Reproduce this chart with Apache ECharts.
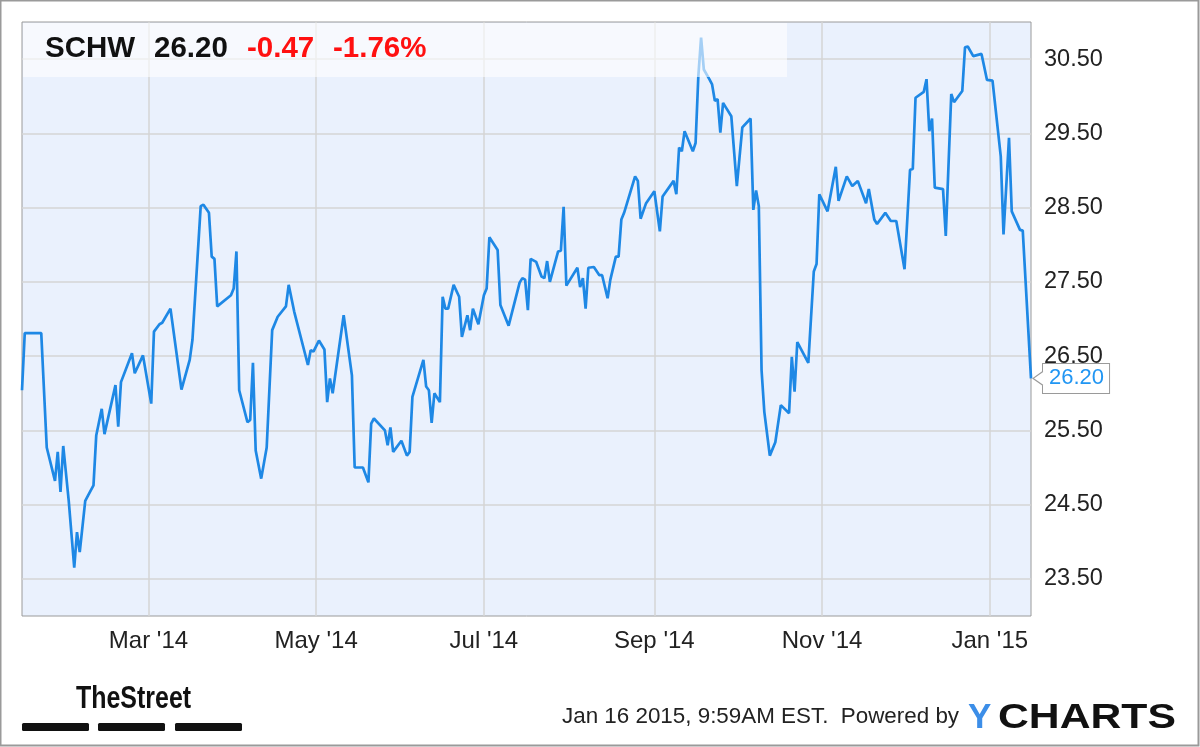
<!DOCTYPE html>
<html>
<head>
<meta charset="utf-8">
<script src="https://cdn.jsdelivr.net/npm/echarts@6/dist/echarts.min.js"></script>
<style>
html,body{margin:0;padding:0;background:#fff;}
#c{width:1200px;height:747px;}
</style>
</head>
<body>
<div id="c"></div>
<script>
// ---- data ----
const dates = [
'2014-01-14','2014-01-15','2014-01-21','2014-01-23','2014-01-26','2014-01-27','2014-01-28','2014-01-29','2014-01-31',
'2014-02-02','2014-02-03','2014-02-04','2014-02-06','2014-02-07','2014-02-09','2014-02-10','2014-02-12','2014-02-13',
'2014-02-17','2014-02-18','2014-02-19','2014-02-23','2014-02-24','2014-02-27',
'2014-03-02','2014-03-03','2014-03-05','2014-03-06','2014-03-09','2014-03-13','2014-03-16','2014-03-17','2014-03-20',
'2014-03-21','2014-03-23','2014-03-24','2014-03-25','2014-03-26','2014-03-31',
'2014-04-01','2014-04-02','2014-04-03','2014-04-06','2014-04-07','2014-04-08','2014-04-09','2014-04-11','2014-04-13',
'2014-04-15','2014-04-17','2014-04-20','2014-04-21','2014-04-23','2014-04-28','2014-04-29','2014-04-30',
'2014-05-02','2014-05-04','2014-05-05','2014-05-06','2014-05-07','2014-05-11','2014-05-14','2014-05-15','2014-05-18',
'2014-05-20','2014-05-21','2014-05-22','2014-05-26','2014-05-27','2014-05-28','2014-05-29',
'2014-06-01','2014-06-03','2014-06-04','2014-06-05','2014-06-09','2014-06-10','2014-06-11','2014-06-12','2014-06-13',
'2014-06-15','2014-06-16','2014-06-17','2014-06-18','2014-06-20','2014-06-22','2014-06-23','2014-06-25','2014-06-26',
'2014-06-27','2014-06-29',
'2014-07-01','2014-07-02','2014-07-03','2014-07-06','2014-07-07','2014-07-10','2014-07-14','2014-07-15','2014-07-16',
'2014-07-17','2014-07-18','2014-07-20','2014-07-22','2014-07-23','2014-07-24','2014-07-25','2014-07-28','2014-07-29',
'2014-07-30','2014-07-31',
'2014-08-04','2014-08-05','2014-08-06','2014-08-07','2014-08-08','2014-08-10','2014-08-12','2014-08-13','2014-08-15',
'2014-08-16','2014-08-18','2014-08-19','2014-08-20','2014-08-21','2014-08-25','2014-08-26','2014-08-27','2014-08-29',
'2014-09-01','2014-09-03','2014-09-04','2014-09-08','2014-09-09','2014-09-10','2014-09-11','2014-09-12','2014-09-15',
'2014-09-16','2014-09-17','2014-09-18','2014-09-19','2014-09-21','2014-09-22','2014-09-23','2014-09-24','2014-09-25',
'2014-09-26','2014-09-27','2014-09-29',
'2014-10-01','2014-10-03','2014-10-06','2014-10-07','2014-10-08','2014-10-09','2014-10-10','2014-10-11','2014-10-13',
'2014-10-15','2014-10-17','2014-10-20','2014-10-21','2014-10-22','2014-10-23','2014-10-27','2014-10-29','2014-10-30',
'2014-10-31',
'2014-11-03','2014-11-06','2014-11-07','2014-11-10','2014-11-12','2014-11-14','2014-11-17','2014-11-18','2014-11-20',
'2014-11-21','2014-11-24','2014-11-26','2014-11-28',
'2014-12-01','2014-12-03','2014-12-04','2014-12-05','2014-12-08','2014-12-09','2014-12-10','2014-12-11','2014-12-12',
'2014-12-15','2014-12-16','2014-12-18','2014-12-19','2014-12-22','2014-12-23','2014-12-24','2014-12-26','2014-12-29',
'2014-12-31',
'2015-01-02','2015-01-05','2015-01-06','2015-01-08','2015-01-09','2015-01-12','2015-01-13','2015-01-16'
];
const prices = [
26.04,26.81,26.81,25.27,24.82,25.21,24.67,25.29,24.55,
23.65,24.13,23.86,24.55,24.62,24.76,25.43,25.79,25.45,
26.11,25.55,26.15,26.54,26.27,26.51,
25.86,26.83,26.93,26.95,27.14,26.05,26.45,26.72,28.52,
28.54,28.43,27.84,27.81,27.17,27.32,
27.41,27.91,26.04,25.61,25.64,26.41,25.23,24.85,25.27,
26.85,27.03,27.17,27.46,27.10,26.38,26.58,26.56,
26.71,26.59,25.88,26.20,26.00,27.05,26.24,25.00,25.00,
24.80,25.59,25.66,25.50,25.30,25.54,25.21,
25.36,25.16,25.21,25.95,26.45,26.09,26.04,25.60,26.00,
25.88,27.30,27.14,27.14,27.46,27.30,26.76,27.05,26.85,
27.14,26.93,
27.32,27.41,28.10,27.93,27.19,26.91,27.49,27.55,27.53,
27.12,27.81,27.77,27.57,27.55,27.78,27.50,27.91,27.92,
28.51,27.45,
27.69,27.43,27.55,27.14,27.69,27.70,27.59,27.59,27.28,
27.53,27.84,27.84,28.34,28.43,28.92,28.86,28.35,28.56,
28.72,28.18,28.65,28.86,28.68,29.31,29.26,29.53,29.26,
29.37,30.27,30.79,30.36,30.23,30.16,29.94,29.96,29.51,
29.91,29.85,29.73,
28.79,29.58,29.70,28.47,28.73,28.52,26.31,25.75,25.16,
25.34,25.84,25.73,26.49,26.02,26.69,26.41,27.64,27.74,
28.68,
28.45,29.05,28.59,28.92,28.79,28.86,28.56,28.75,28.34,
28.28,28.43,28.32,28.32,
27.67,29.01,29.02,29.98,30.06,30.23,29.53,29.70,28.77,
28.75,28.12,30.03,29.92,30.07,30.66,30.67,30.54,30.57,
30.22,
30.21,29.19,28.14,29.44,28.45,28.20,28.19,26.20
];
const tickDates = ['2014-03-01','2014-05-01','2014-07-01','2014-09-01','2014-11-01','2015-01-01'];
const tickLabels = ["Mar '14","May '14","Jul '14","Sep '14","Nov '14","Jan '15"];
const xMinDate = '2014-01-14';
const xMaxDate = '2015-01-16';
const ticker = 'SCHW';
const lastPrice = '26.20';
const change = '-0.47';
const changePct = '-1.76%';
const footerText = 'Jan 16 2015, 9:59AM EST.  Powered by';

// ---- chart ----
const DAY = 86400000;
const base = new Date(xMinDate + 'T00:00:00').getTime();
// x measured in days since the first date (local midnight)
const t = s => Math.round((new Date(s + 'T00:00:00').getTime() - base) / DAY);
const seriesData = dates.map((d, i) => [t(d), prices[i]]);
const tickX = tickDates.map(t);
const FONT = '"Liberation Sans", Arial, sans-serif';
const LINE = '#1E88E5';

const chart = echarts.init(document.getElementById('c'), null, {renderer: 'canvas'});
const last = seriesData[seriesData.length - 1];

chart.setOption({
  animation: false,
  backgroundColor: '#ffffff',
  grid: {
    left: 22, top: 22, width: 1009, height: 594,
    show: true, backgroundColor: '#EAF1FD', borderColor: '#9a9a9a', borderWidth: 1
  },
  xAxis: {
    type: 'value',
    min: t(xMinDate), max: t(xMaxDate),
    axisLine: {show: false},
    axisTick: {show: false, customValues: tickX},
    splitLine: {show: true, lineStyle: {color: '#d4d4d4', width: 1.5}},
    axisLabel: {
      customValues: tickX,
      margin: 13,
      color: '#222', fontSize: 24, fontFamily: FONT,
      formatter: v => { const i = tickX.indexOf(v); return i >= 0 ? tickLabels[i] : ''; }
    }
  },
  yAxis: {
    type: 'value', position: 'right',
    min: 23, max: 31, interval: 0.5,
    axisLine: {show: false}, axisTick: {show: false},
    splitLine: {show: true, lineStyle: {color: ['rgba(0,0,0,0)', '#d4d4d4'], width: 1.5}},
    axisLabel: {
      margin: 13, color: '#222', fontSize: 23.5, fontFamily: FONT,
      formatter: v => (Math.abs(v % 1 - 0.5) < 1e-6 ? v.toFixed(2) : '')
    }
  },
  series: [{
    type: 'line',
    data: seriesData,
    showSymbol: false,
    lineStyle: {color: LINE, width: 2.7},
    itemStyle: {color: LINE},
    z: 2,
    endLabel: {
      show: true,
      formatter: p => p.value[1].toFixed(2),
      color: '#2196F3', fontSize: 22, fontFamily: FONT,
      backgroundColor: '#ffffff', borderColor: '#9a9a9a', borderWidth: 1,
      padding: [4, 5, 3, 6], distance: 12
    },
    markPoint: {
      silent: true,
      symbol: 'path://M9,0 L0,6 L9,12',
      symbolSize: [10, 14],
      symbolOffset: [7, 0],
      itemStyle: {color: '#ffffff', borderColor: '#9a9a9a', borderWidth: 1},
      label: {show: false},
      z: 10,
      data: [{coord: last}]
    }
  }],
  graphic: [
    {type: 'rect', z: 50, shape: {x: 23, y: 23, width: 764, height: 54},
     style: {fill: 'rgba(255,255,255,0.6)'}},
    {type: 'text', z: 51, left: 45, top: 34,
     style: {text: ticker, font: 'bold 29.5px ' + FONT, fill: '#111'}},
    {type: 'text', z: 51, left: 154, top: 34,
     style: {text: lastPrice, font: 'bold 29.5px ' + FONT, fill: '#111'}},
    {type: 'text', z: 51, left: 247, top: 34,
     style: {text: change, font: 'bold 29.5px ' + FONT, fill: '#ff1010'}},
    {type: 'text', z: 51, left: 333, top: 34,
     style: {text: changePct, font: 'bold 29.5px ' + FONT, fill: '#ff1010'}},
    {type: 'rect', z: 60, shape: {x: 0.5, y: 0.5, width: 1198, height: 745},
     style: {fill: 'none', stroke: '#9a9a9a', lineWidth: 2}},
    {type: 'text', z: 51, x: 76, y: 683, scaleX: 0.78,
     style: {text: 'TheStreet', font: 'bold 32px ' + FONT, fill: '#111'}},
    {type: 'rect', z: 51, shape: {x: 22, y: 723, width: 67, height: 8, r: 1.5}, style: {fill: '#111'}},
    {type: 'rect', z: 51, shape: {x: 98, y: 723, width: 67, height: 8, r: 1.5}, style: {fill: '#111'}},
    {type: 'rect', z: 51, shape: {x: 175, y: 723, width: 67, height: 8, r: 1.5}, style: {fill: '#111'}},
    {type: 'text', z: 51, x: 562, y: 706,
     style: {text: footerText, font: '22.4px ' + FONT, fill: '#222'}},
    {type: 'text', z: 51, x: 968, y: 701,
     style: {text: 'Y', font: 'bold 35px ' + FONT, fill: '#3C8EE8'}},
    {type: 'text', z: 51, x: 998, y: 701, scaleX: 1.22,
     style: {text: 'CHARTS', font: 'bold 35px ' + FONT, fill: '#111'}}
  ]
});
</script>
</body>
</html>
